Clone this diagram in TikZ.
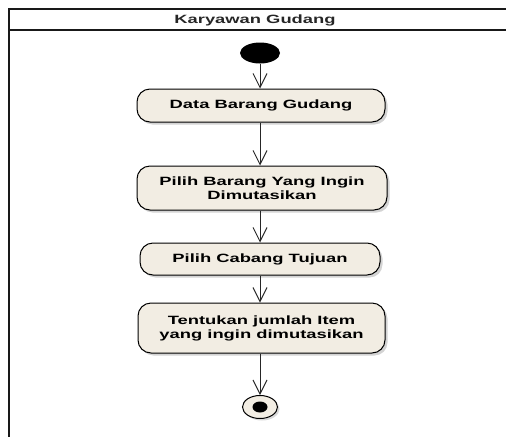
\documentclass[tikz,border=0pt]{standalone}
\usepackage{fontspec}
\setmainfont{Liberation Sans}
\newfontfamily\umlfont{Liberation Sans}[FakeStretch=1.53]
\usetikzlibrary{arrows.meta,shadows,shapes.geometric}
\definecolor{actfill}{RGB}{242,237,227}
\definecolor{framec}{RGB}{25,25,25}
\begin{document}
\begin{tikzpicture}[x=1pt,y=-1pt,
  act/.style={draw=black, line width=1pt, rounded corners=13pt, fill=actfill,
    align=center, inner sep=0pt,
    font=\umlfont\bfseries\fontsize{12}{14}\selectfont,
    drop shadow={shadow xshift=2.5pt, shadow yshift=-2.5pt, opacity=0.35, fill=gray}},
  flow/.style={draw=black!85, line width=1pt,
    -{Straight Barb[length=14pt,width=14pt,line width=1pt]}},
  framel/.style={draw=framec, line width=1.4pt},
]
\useasboundingbox (0,0) rectangle (506,437);
% swimlane frame
\draw[framel] (506,9) -- (9,9) -- (9,437);
\draw[framel] (9,30) -- (506,30);
\node[font=\umlfont\bfseries\fontsize{12}{14}\selectfont, text=black!85] (lane) at (255,20) {Karyawan Gudang};
% initial node
\node[ellipse, fill=black, minimum width=40pt, minimum height=21pt, inner sep=0pt] (init) at (260,53) {};
% activities
\node[act, minimum width=248pt, minimum height=33pt] (b1) at (261,105.5) {Data Barang Gudang};
\node[act, minimum width=250pt, minimum height=44pt] (b2) at (262,188) {Pilih Barang Yang Ingin\\Dimutasikan};
\node[act, minimum width=240pt, minimum height=32pt] (b3) at (260,259) {Pilih Cabang Tujuan};
\node[act, minimum width=247pt, minimum height=50pt] (b4) at (261.5,328) {Tentukan jumlah Item\\yang ingin dimutasikan};
% final node
\node[ellipse, draw=black, line width=1pt, fill=actfill, minimum width=35pt, minimum height=23pt, inner sep=0pt,
  drop shadow={shadow xshift=2pt, shadow yshift=-2pt, opacity=0.3, fill=gray}] (final) at (260,407) {};
\node[ellipse, fill=black, minimum width=15pt, minimum height=11pt, inner sep=0pt] (finaldot) at (final.center) {};
% flows
\draw[flow] (init.south) -- (init.south |- b1.north);
\draw[flow] (init.south |- b1.south) -- (init.south |- b2.north);
\draw[flow] (init.south |- b2.south) -- (init.south |- b3.north);
\draw[flow] (init.south |- b3.south) -- (init.south |- b4.north);
\draw[flow] (init.south |- b4.south) -- (final.north);
\end{tikzpicture}
\end{document}
